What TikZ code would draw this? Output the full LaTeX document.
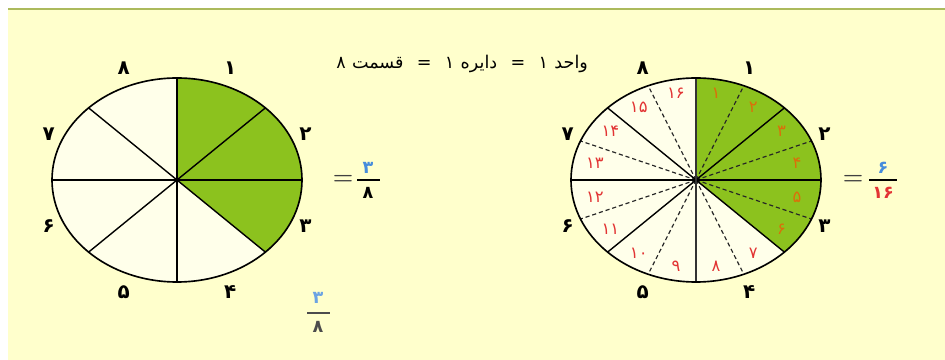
\documentclass[tikz,border=0pt]{standalone}
\usepackage{fontspec}
\newfontfamily\fa[Script=Arabic]{DejaVu Sans}
\usetikzlibrary{positioning}
\definecolor{bgyellow}{RGB}{255,255,204}
\definecolor{cream}{RGB}{255,255,234}
\definecolor{leafgreen}{RGB}{140,194,30}
\definecolor{numred}{RGB}{226,52,52}
\definecolor{numorange}{RGB}{220,110,10}
\definecolor{fracblue}{RGB}{70,140,220}
\definecolor{edgeolive}{RGB}{172,186,92}

\begin{document}
\begin{tikzpicture}[x=0.3mm,y=0.3mm,
  spoke/.style={line width=1.2pt},
  halfspoke/.style={draw=black!85, dash pattern=on 3.5pt off 2.5pt, line width=1pt},
  rim/.style={line width=1.4pt},
  outlab/.style={font=\fa\bfseries\fontsize{17}{17}\selectfont},
  inlab/.style={font=\fa\fontsize{14}{14}\selectfont},
  fracnum/.style={font=\fa\bfseries\fontsize{15}{15}\selectfont},
  eqsign/.style={font=\bfseries\fontsize{20}{20}\selectfont, text=black!75},
  word/.style={font=\fa\fontsize{15}{15}\selectfont, inner sep=1pt}]
  \useasboundingbox (0,0) rectangle (945,360);
  \fill[bgyellow] (8,0) rectangle (945,351);
  \draw[edgeolive, line width=1pt] (8,351) -- (945,351);

  % title, one word per node
  \node[word] (t1) at (341,297) {۸};
  \node[word, base right=3pt of t1] (t2) {قسمت};
  \node[word, base right=9pt of t2] (t3) {=};
  \node[word, base right=9pt of t3] (t4) {۱};
  \node[word, base right=3pt of t4] (t5) {دایره};
  \node[word, base right=9pt of t5] (t6) {=};
  \node[word, base right=9pt of t6] (t7) {۱};
  \node[word, base right=3pt of t7] (t8) {واحد};

  % left circle: 8 parts
  \fill[cream] (177,180) ellipse [x radius=125, y radius=102];
  \fill[leafgreen] (177,180) -- ({177+125*cos(90)},{180+102*sin(90)})
    arc[start angle=90, end angle=-45, x radius=125, y radius=102] -- cycle;
  \foreach \a in {0,45,...,315}
    \draw[spoke] (177,180) -- ({177+125*cos(\a)},{180+102*sin(\a)});
  \draw[rim] (177,180) ellipse [x radius=125, y radius=102];
  \foreach \k/\d in {1/۱,2/۲,3/۳,4/۴,5/۵,6/۶,7/۷,8/۸}
    \node[outlab] (L\k) at ({177+139*cos(112.5-45*\k)},{180+121*sin(112.5-45*\k)}) {\d};

  \node[eqsign] (eqL) at (343,180) {=};
  \node[fracnum, text=fracblue] (eqLnum) at (368,192) {۳};
  \node[fracnum] (eqLden) at (368,167) {۸};
  \draw[line width=1pt] (357,180) -- (380,180);

  \node[fracnum, text=fracblue!80] (botnum) at (318,62) {۳};
  \node[fracnum, text=black!70] (botden) at (318,33) {۸};
  \draw[black!70, line width=0.9pt] (307,47) -- (330,47);

  % right circle: 16 parts
  \fill[cream] (696,180) ellipse [x radius=125, y radius=102];
  \fill[leafgreen] (696,180) -- ({696+125*cos(90)},{180+102*sin(90)})
    arc[start angle=90, end angle=-45, x radius=125, y radius=102] -- cycle;
  \foreach \a in {22.5,67.5,...,337.5}
    \draw[halfspoke] (696,180) -- ({696+125*cos(\a)},{180+102*sin(\a)});
  \foreach \a in {0,45,135,180,225,315}
    \draw[spoke] (696,180) -- ({696+125*cos(\a)},{180+102*sin(\a)});
  \draw[line width=2.2pt, black!80] (696,78) -- (696,282);
  \draw[rim] (696,180) ellipse [x radius=125, y radius=102];
  \foreach \k/\d in {1/۱,2/۲,3/۳,4/۴,5/۵,6/۶,7/۷,8/۸}
    \node[outlab] (R\k) at ({696+139*cos(112.5-45*\k)},{180+121*sin(112.5-45*\k)}) {\d};
  \foreach \k/\d in {1/۱,2/۲,3/۳,4/۴,5/۵,6/۶,7/۷,8/۸,9/۹,10/۱۰,11/۱۱,12/۱۲,13/۱۳,14/۱۴,15/۱۵,16/۱۶}{
    \ifnum\k<7 \def\c{numorange}\else \def\c{numred}\fi
    \node[inlab, text=\c] (p\k) at ({696+103*cos(101.25-22.5*\k)},{180+88*sin(101.25-22.5*\k)}) {\d};
  }

  \node[eqsign] (eqR) at (853,180) {=};
  \node[fracnum, text=fracblue] (eqRnum) at (883,192) {۶};
  \node[fracnum, text=numred] (eqRden) at (883,167) {۱۶};
  \draw[line width=1pt] (869,180) -- (897,180);
\end{tikzpicture}
\end{document}
